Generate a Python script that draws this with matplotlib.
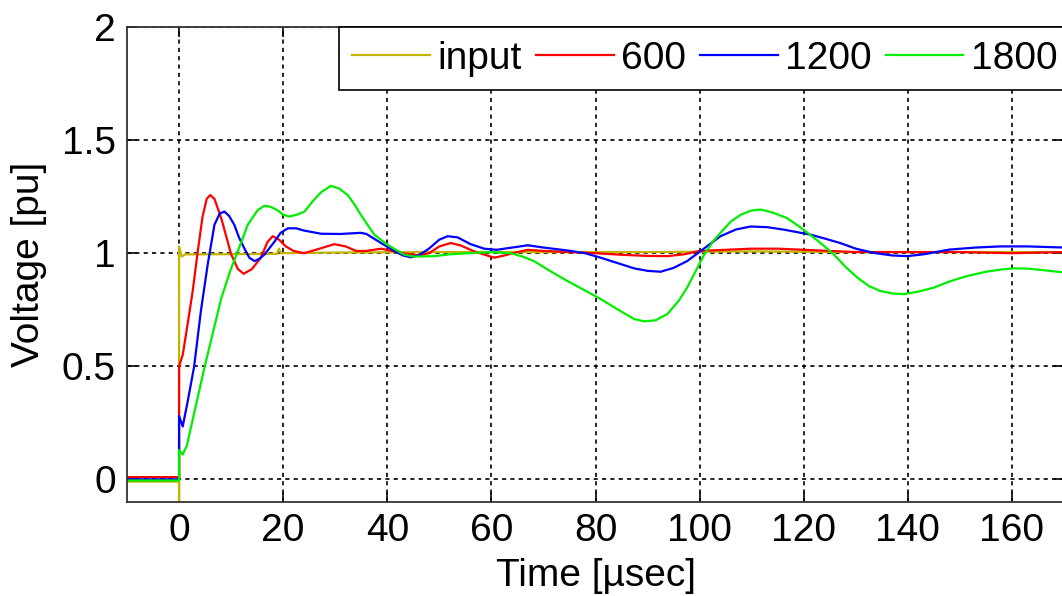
import matplotlib
matplotlib.use('Agg')
import matplotlib.pyplot as plt

plt.rcParams['font.family'] = ['Liberation Sans', 'DejaVu Sans']
plt.rcParams['font.size'] = 28

# time [usec] and voltage [pu]
input_t = [-10, 0, 0, 0, 0.5, 1.2, 5, 18.8, 19.2, 19.6, 30, 50, 70, 90, 110, 130, 150, 170]
input_v = [-0.01, -0.01, -0.1, 1.03, 0.985, 0.995, 0.995, 0.997, 1.02, 1.0, 1.003, 1.005, 1.005, 1.005, 1.008, 1.005, 1.005, 1.005]

red_t = [-10, 0, 0, 0.7, 1.6, 2.6, 3.6, 4.5, 5.3, 6.0, 6.8, 8.1, 10.0, 11.3, 12.4, 14, 15.7, 17, 18, 19.2,
         20.5, 22, 24, 27, 29.8, 32, 34, 36, 38.8, 43, 46, 48, 50, 52.2, 54, 56.5, 58.5, 60.5, 62.5, 65,
         67, 70, 75, 80, 85, 90, 93.8, 97, 100, 105, 110, 115, 120, 125, 130, 140, 150, 160, 170]
red_v = [0.01, 0.01, 0.5, 0.55, 0.68, 0.83, 1.01, 1.16, 1.24, 1.257, 1.24, 1.155, 0.995, 0.93, 0.909, 0.93, 0.98, 1.05, 1.075, 1.06,
         1.03, 1.01, 1.0, 1.02, 1.04, 1.03, 1.01, 1.01, 1.02, 1.0, 0.99, 1.0, 1.03, 1.045, 1.035, 1.01, 0.995, 0.98, 0.99, 1.005,
         1.015, 1.01, 1.005, 1.0, 0.993, 0.988, 0.987, 0.995, 1.01, 1.015, 1.02, 1.02, 1.015, 1.01, 1.005, 1.005, 1.005, 1.0, 1.005]

blue_t = [-10, 0, 0, 0.7, 1.7, 2.9, 4.2, 5.5, 6.8, 7.8, 8.7, 9.6, 10.6, 11.5, 12.5, 13.5, 14.5, 15.4, 16.4, 18.3,
          19.5, 20.9, 22.5, 24, 27.3, 31, 34.9, 36, 38.8, 41.3, 43, 44.5, 46, 48, 50, 51.6, 53.5, 56, 58.6, 61,
          64, 67, 70, 74.6, 78, 81, 84, 87.4, 90, 92.5, 95, 97.6, 100.8, 104, 107, 109.8, 113, 116.2, 121.3, 124,
          127, 130, 133.5, 137, 139.9, 143, 148, 153, 157.8, 163, 170]
blue_v = [0.0, 0.0, 0.28, 0.234, 0.35, 0.5, 0.746, 0.95, 1.126, 1.175, 1.184, 1.165, 1.126, 1.07, 1.023, 0.98, 0.965, 0.975, 0.994, 1.05,
          1.09, 1.11, 1.11, 1.1, 1.086, 1.085, 1.09, 1.085, 1.045, 1.01, 0.99, 0.982, 0.99, 1.02, 1.06, 1.075, 1.07, 1.04, 1.02, 1.015,
          1.025, 1.035, 1.025, 1.012, 1.0, 0.98, 0.958, 0.933, 0.922, 0.918, 0.935, 0.965, 1.02, 1.075, 1.105, 1.118, 1.115, 1.104, 1.082, 1.065,
          1.045, 1.02, 1.001, 0.99, 0.987, 0.995, 1.016, 1.025, 1.03, 1.03, 1.025]

green_t = [-10, 0, 0, 0.7, 1.5, 4.9, 8.1, 9.8, 11.3, 13.2, 15.1, 16.4, 17.6, 18.9, 20, 21.2, 22.6, 24.1, 25.7, 27.3,
           29.2, 30.8, 32.4, 33.7, 34.9, 37.5, 40, 43.2, 45, 49, 52, 55.4, 60, 63.7, 66, 68.2, 71, 74.6, 78, 81,
           84, 87.4, 89.3, 91.5, 93.8, 96, 97.6, 99, 100.8, 102.5, 104, 106, 107.9, 109.8, 111.7, 114, 116.8, 119, 121.3, 123.5,
           125.8, 128, 130.3, 132.5, 134.7, 137, 139.2, 142, 145, 148, 151.4, 155, 158, 160.3, 163, 166, 170]
green_v = [-0.005, -0.005, 0.13, 0.11, 0.15, 0.497, 0.8, 0.92, 1.01, 1.126, 1.19, 1.21, 1.205, 1.19, 1.17, 1.162, 1.17, 1.184, 1.23, 1.27,
           1.298, 1.285, 1.257, 1.215, 1.17, 1.082, 1.038, 0.994, 0.985, 0.987, 0.995, 1.0, 1.005, 1.0, 0.985, 0.965, 0.925, 0.877, 0.835, 0.797,
           0.755, 0.709, 0.699, 0.703, 0.731, 0.79, 0.848, 0.91, 0.99, 1.05, 1.09, 1.14, 1.17, 1.188, 1.193, 1.18, 1.155, 1.12, 1.08, 1.04,
           0.994, 0.94, 0.892, 0.855, 0.833, 0.822, 0.819, 0.83, 0.848, 0.875, 0.899, 0.918, 0.928, 0.933, 0.932, 0.925, 0.915]

xticks = [0, 20, 40, 60, 80, 100, 120, 140, 160]
yticks = [0, 0.5, 1, 1.5, 2]
ytick_labels = ['0', '0.5', '1', '1.5', '2']

fig = plt.figure(figsize=(10.62, 5.96), dpi=100)
ax = fig.add_axes([0.1196, 0.1577, 0.8823, 0.797])

ax.plot(input_t, input_v, color='#c4b400', lw=1.6, label='input')
ax.plot(red_t, red_v, color='#ff0000', lw=1.6, label='600')
ax.plot(blue_t, blue_v, color='#0000ff', lw=1.6, label='1200')
ax.plot(green_t, green_v, color='#00ee00', lw=1.6, label='1800')

ax.set_xlim(-10, 170)
ax.set_ylim(-0.1, 2)
ax.set_xticks(xticks)
ax.set_yticks(yticks)
ax.set_yticklabels(ytick_labels)
ax.grid(True, color='black', linestyle=(0, (2.5, 2.5)), linewidth=1.2)
ax.tick_params(direction='in', length=7, width=1.2, top=True, right=True, pad=8, colors='black')
for s in ax.spines.values():
    s.set_color('#333333')
    s.set_linewidth(1.3)

ax.set_xlabel('Time [µsec]', labelpad=6.5)
ax.set_ylabel('Voltage [pu]', labelpad=11)

leg = ax.legend(loc='upper right', bbox_to_anchor=(1.008, 1.0), ncol=4, fancybox=False, edgecolor='black',
                framealpha=1, borderaxespad=0, handlelength=2.0, handletextpad=0.2, columnspacing=0.35, borderpad=0.35)
leg.get_frame().set_linewidth(1.2)

fig.savefig('out.png', dpi=100)
